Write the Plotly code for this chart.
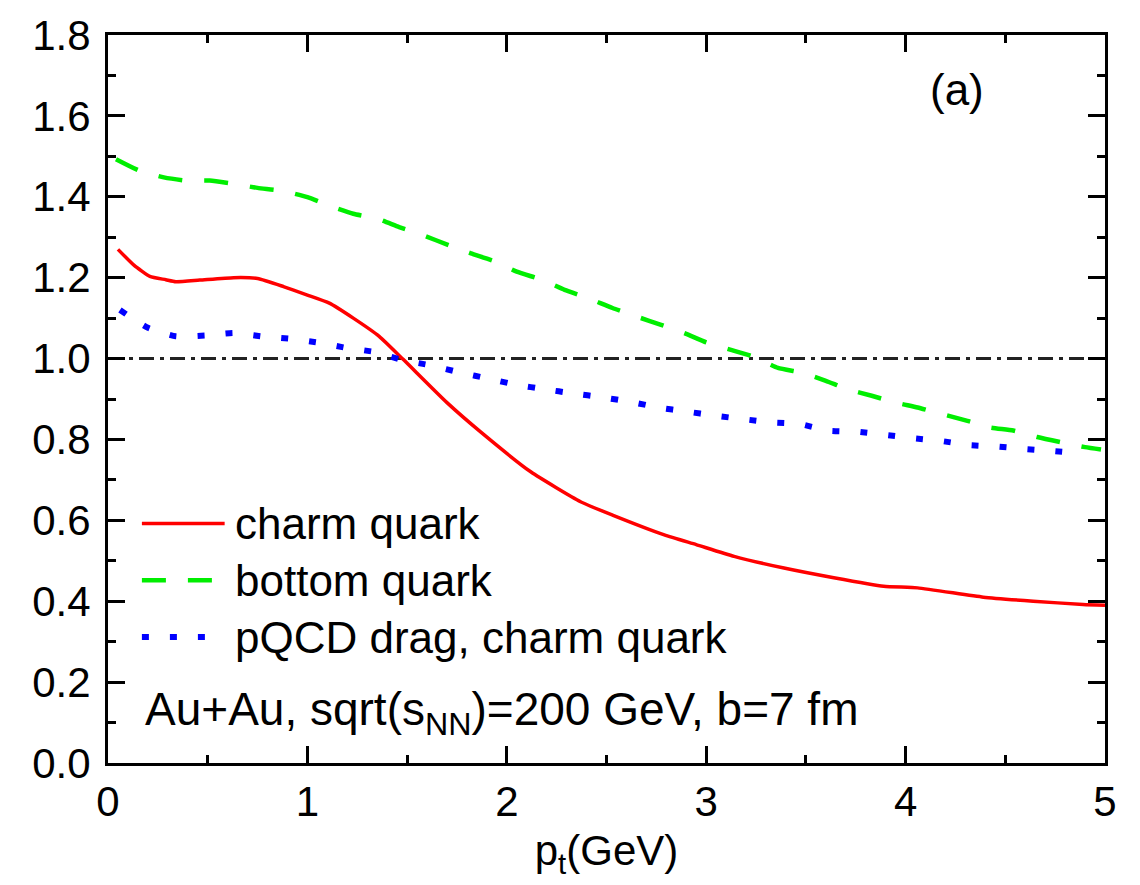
import plotly.graph_objects as go

# Nuclear modification factor R_AA vs transverse momentum
pt_charm = [0.05, 0.13, 0.21, 0.29, 0.34, 0.46, 0.63, 0.75, 0.88, 1.0, 1.11, 1.23,
            1.36, 1.48, 1.7, 1.87, 2.12, 2.37, 2.53, 2.79, 2.95, 3.14, 3.39, 3.64,
            3.89, 4.06, 4.39, 4.64, 4.89, 5.0]
raa_charm = [1.27, 1.231, 1.203, 1.195, 1.19, 1.194, 1.2, 1.198, 1.178, 1.157, 1.137, 1.10,
             1.055, 0.998, 0.891, 0.818, 0.72, 0.646, 0.613, 0.564, 0.54, 0.511, 0.482, 0.458,
             0.437, 0.433, 0.41, 0.40, 0.392, 0.39]

pt_bottom = [0.04, 0.16, 0.28, 0.39, 0.51, 0.63, 0.75, 0.87, 1.0, 1.11, 1.23, 1.35, 1.46,
             1.58, 1.71, 1.82, 1.94, 2.05, 2.18, 2.29, 2.41, 2.53, 2.65, 2.77, 2.89, 3.0,
             3.12, 3.24, 3.36, 3.48, 3.6, 3.71, 3.83, 3.95, 4.06, 4.18, 4.31, 4.42, 4.54,
             4.66, 4.78, 4.9, 4.98]
raa_bottom = [1.493, 1.464, 1.448, 1.44, 1.44, 1.432, 1.422, 1.415, 1.399, 1.378, 1.358, 1.346,
              1.325, 1.305, 1.28, 1.26, 1.24, 1.215, 1.194, 1.17, 1.149, 1.125, 1.104, 1.084,
              1.063, 1.04, 1.022, 1.004, 0.977, 0.965, 0.945, 0.924, 0.908, 0.891, 0.879,
              0.863, 0.846, 0.83, 0.822, 0.806, 0.793, 0.781, 0.775]

pt_drag = [0.06, 0.2, 0.34, 0.49, 0.63, 0.77, 0.91, 1.06, 1.2, 1.34, 1.48, 1.62, 1.77, 1.91,
           2.05, 2.19, 2.33, 2.48, 2.62, 2.76, 2.9, 3.04, 3.19, 3.33, 3.47, 3.61, 3.76, 3.9,
           4.04, 4.18, 4.32, 4.47, 4.61, 4.75, 4.89]
raa_drag = [1.12, 1.076, 1.055, 1.057, 1.063, 1.055, 1.049, 1.039, 1.026, 1.016, 0.996, 0.983,
            0.965, 0.95, 0.935, 0.924, 0.914, 0.904, 0.893, 0.879, 0.869, 0.859, 0.85, 0.842,
            0.838, 0.822, 0.819, 0.811, 0.803, 0.796, 0.786, 0.782, 0.776, 0.771, 0.765]

series_names = ["charm quark", "bottom quark", "pQCD drag, charm quark"]

unity_level = 1.0
x_range = [0, 5]
y_range = [0, 1.8]
x_ticks = [0, 1, 2, 3, 4, 5]
y_ticks = [0.0, 0.2, 0.4, 0.6, 0.8, 1.0, 1.2, 1.4, 1.6, 1.8]

FONT = "Liberation Sans, Arial, sans-serif"

# line styles shared by the curves and their key samples
styles = [
    dict(color="#ff0000", width=3.5),
    dict(color="#00ee00", width=4.5, dash="24px,22px"),
    dict(color="#0000ff", width=6, dash="7px,21px"),
]

fig = go.Figure()

fig.add_trace(go.Scatter(
    x=x_range, y=[unity_level, unity_level], mode="lines", showlegend=False,
    line=dict(color="#222222", width=3, dash="15px,6px,4px,6px"), hoverinfo="skip"))

for xs, ys, name, st in zip([pt_charm, pt_bottom, pt_drag],
                            [raa_charm, raa_bottom, raa_drag], series_names, styles):
    fig.add_trace(go.Scatter(
        x=xs, y=ys, mode="lines", name=name, showlegend=False,
        line=dict(shape="spline", smoothing=0.5, **st)))

# key: sample lines and labels placed in the lower left of the frame
key_rows = [0.329, 0.251, 0.173]
key_ends = [0.117, 0.105, 0.103]
for row, end, name, st in zip(key_rows, key_ends, series_names, styles):
    fig.add_shape(type="line", xref="paper", yref="paper",
                  x0=0.034, x1=end, y0=row, y1=row, line=st)
    fig.add_annotation(text=name, xref="paper", yref="paper", x=0.125, y=row,
                       xanchor="left", yanchor="middle", showarrow=False,
                       font=dict(family=FONT, size=44, color="black"))

axis_common = dict(
    showline=True, linecolor="black", linewidth=3, mirror="ticks",
    ticks="inside", ticklen=17, tickwidth=3, tickcolor="black",
    showgrid=False, zeroline=False,
    tickfont=dict(family=FONT, size=42, color="black"),
)

fig.update_xaxes(
    range=x_range, tickvals=x_ticks, ticktext=[str(v) for v in x_ticks],
    minor=dict(ticks="inside", ticklen=8, tickwidth=3, tickcolor="black", dtick=0.5, showgrid=False),
    title=dict(text="p<sub>t</sub>(GeV)", font=dict(family=FONT, size=42, color="black"), standoff=12),
    **axis_common)

fig.update_yaxes(
    range=y_range, tickvals=y_ticks, ticktext=[f"{v:.1f}" for v in y_ticks],
    minor=dict(ticks="inside", ticklen=8, tickwidth=3, tickcolor="black", dtick=0.1, showgrid=False),
    ticklabelstandoff=6,
    **axis_common)

fig.add_annotation(
    text="(a)", xref="paper", yref="paper", x=0.852, y=0.925,
    xanchor="center", yanchor="middle",
    showarrow=False, font=dict(family=FONT, size=44, color="black"))

fig.add_annotation(
    text="Au+Au, sqrt(s<sub>NN</sub>)=200 GeV, b=7 fm", xref="paper", yref="paper",
    x=0.035, y=0.07, xanchor="left", yanchor="middle",
    showarrow=False, font=dict(family=FONT, size=46, color="black"))

fig.update_layout(
    width=1140, height=885,
    margin=dict(l=108, r=35, t=30, b=122),
    paper_bgcolor="white", plot_bgcolor="white",
    font=dict(family=FONT, color="black"),
    showlegend=False,
)

fig.write_html("out.html")
